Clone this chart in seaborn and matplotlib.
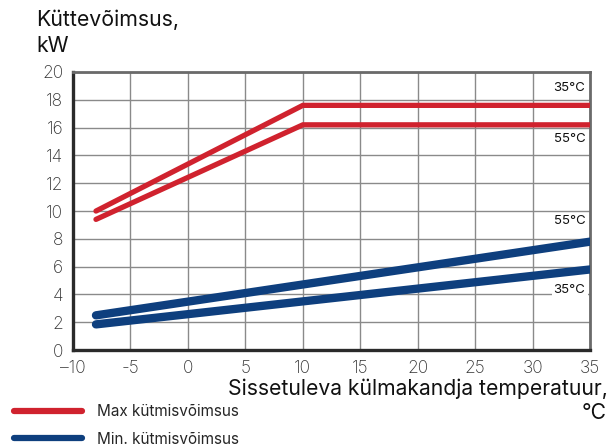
import matplotlib
matplotlib.use("Agg")
import matplotlib.pyplot as plt
import seaborn as sns
import pandas as pd
from matplotlib.lines import Line2D

# Heating capacity vs. incoming brine temperature
max35_x = [-8, 10, 35]
max35_y = [10.0, 17.6, 17.6]
max55_x = [-8, 10, 35]
max55_y = [9.4, 16.2, 16.2]
min55_x = [-8, 35]
min55_y = [2.5, 7.8]
min35_x = [-8, 35]
min35_y = [1.85, 5.8]

x_ticks = [-10, -5, 0, 5, 10, 15, 20, 25, 30, 35]
x_tick_labels = ["–10", "-5", "0", "5", "10", "15", "20", "25", "30", "35"]
y_ticks = list(range(0, 21, 2))

red = "#d0222e"
blue = "#0e3f7e"

sns.set_theme(style="white")
plt.rcParams["font.family"] = ["Inter", "DejaVu Sans"]

frames = []
for name, xs, ys in [("max35", max35_x, max35_y), ("max55", max55_x, max55_y),
                     ("min55", min55_x, min55_y), ("min35", min35_x, min35_y)]:
    frames.append(pd.DataFrame({"x": xs, "y": ys, "series": name}))
df = pd.concat(frames, ignore_index=True)

fig = plt.figure(figsize=(6.16, 4.46), dpi=100)
ax = fig.add_axes([0.1185, 0.215, 0.8395, 0.6236])

styles = {"max35": (red, 3.8), "max55": (red, 3.8), "min55": (blue, 6.0), "min35": (blue, 6.0)}
for name, (col, lw) in styles.items():
    sub = df[df["series"] == name]
    sns.lineplot(data=sub, x="x", y="y", ax=ax, color=col, linewidth=lw,
                 solid_capstyle="round", solid_joinstyle="miter", sort=False,
                 estimator=None, zorder=3)

ax.set_xlim(-10, 35)
ax.set_ylim(0, 20)
ax.set_xticks(x_ticks)
ax.set_xticklabels(x_tick_labels)
ax.set_yticks(y_ticks)
ax.grid(True, color="#8a8a8a", linewidth=1.0)
ax.set_axisbelow(True)
ax.set_xlabel("")
ax.set_ylabel("")
ax.tick_params(axis="both", labelsize=12.5, labelcolor="#333333", length=5, width=1.0,
               color="#666666", direction="out", pad=2)
for lbl in ax.get_xticklabels() + ax.get_yticklabels():
    lbl.set_fontweight("light")

for side in ["left", "bottom"]:
    ax.spines[side].set_color("#2a2a2a")
    ax.spines[side].set_linewidth(2.4)
for side in ["top", "right"]:
    ax.spines[side].set_color("#6a6a6a")
    ax.spines[side].set_linewidth(2.0)

# Curve labels
lab_kw = dict(fontsize=9.5, ha="right", va="center", color="#111111", zorder=4)
ax.text(34.6, 18.85, "35°C", **lab_kw)
ax.text(34.6, 15.2, "55°C", **lab_kw)
ax.text(34.6, 9.3, "55°C", **lab_kw)
ax.text(34.6, 4.3, "35°C", bbox=dict(facecolor="white", edgecolor="none", pad=1.5), **lab_kw)

# Axis titles
fig.text(36 / 616, 1 - 20 / 446, "Küttevõimsus,", fontsize=15.3, ha="left", va="center", color="#111111")
fig.text(36 / 616, 1 - 46 / 446, "kW", fontsize=15.3, ha="left", va="center", color="#111111")
fig.text(608 / 616, 1 - 389 / 446, "Sissetuleva külmakandja temperatuur,", fontsize=15.2,
         ha="right", va="center", color="#111111")
fig.text(607 / 616, 1 - 413 / 446, "°C", fontsize=15.2, ha="right", va="center", color="#111111")

# Legend
handles = [Line2D([0], [0], color=red, linewidth=4.5, solid_capstyle="round"),
           Line2D([0], [0], color=blue, linewidth=4.5, solid_capstyle="round")]
fig.legend(handles, ["Max kütmisvõimsus", "Min. kütmisvõimsus"], loc="upper left",
           bbox_to_anchor=(14 / 616, 1 - 404 / 446), frameon=False, fontsize=11,
           handlelength=4.45, handletextpad=0.98, labelspacing=0.82,
           borderpad=0, borderaxespad=0)

fig.savefig("out.png", dpi=100)
